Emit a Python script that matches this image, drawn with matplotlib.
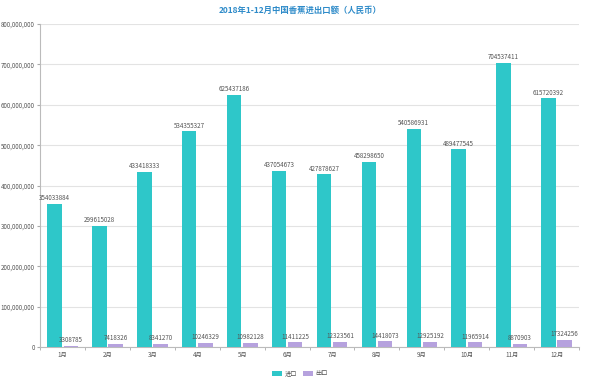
import matplotlib.pyplot as plt
import matplotlib.ticker as mticker
import numpy as np

plt.rcParams['font.family'] = ['Noto Sans CJK SC', 'DejaVu Sans']

months = ["1月", "2月", "3月", "4月", "5月", "6月", "7月", "8月", "9月", "10月", "11月", "12月"]
imports = [354033884, 299615028, 433418333, 534355327, 625437186, 437054673,
           427878627, 458298650, 540586931, 489477545, 704537411, 615720392]
exports = [3308785, 7418326, 8341270, 10246329, 10982128, 11411225,
           12323561, 14418073, 12925192, 11965914, 8870903, 17324256]

c_imp = "#2ec7c9"
c_exp = "#b6a2de"
grid_c = "#e3e3e3"
text_c = "#555555"

fig = plt.figure(figsize=(6, 3.81), dpi=100)
ax = fig.add_axes([0.067, 0.089, 0.898, 0.848])

x = np.arange(len(months))
w = 0.32
gap = 0.02
ax.bar(x - w / 2 - gap, imports, width=w, color=c_imp, label="进口", zorder=3)
ax.bar(x + w / 2 + gap, exports, width=w, color=c_exp, label="出口", zorder=3)

for xi, v in zip(x, imports):
    ax.text(xi - w / 2 - gap, v + 4e6, str(v), ha="center", va="bottom", fontsize=4.5, color=text_c)
for xi, v in zip(x, exports):
    ax.text(xi + w / 2 + gap, v + 4e6, str(v), ha="center", va="bottom", fontsize=4.5, color=text_c)

ax.set_xlim(-0.5, len(months) - 0.5)
ax.set_ylim(0, 800000000)
ax.yaxis.set_major_locator(mticker.MultipleLocator(100000000))
ax.yaxis.set_major_formatter(mticker.FuncFormatter(lambda v, p: f"{int(v):,}"))
ax.grid(axis="y", color=grid_c, linewidth=0.8, zorder=0)

ax.set_xticks(x)
ax.set_xticklabels(months)
ax.set_xticks(np.arange(-0.5, len(months)), minor=True)
ax.tick_params(axis="x", which="major", length=0, labelsize=4.5, colors=text_c, pad=3)
ax.tick_params(axis="x", which="minor", length=2, color="#aaaaaa")
ax.tick_params(axis="y", length=2, color="#aaaaaa", labelsize=4.5, labelcolor=text_c, pad=2)

for s in ["top", "right"]:
    ax.spines[s].set_visible(False)
ax.spines["left"].set_color("#bbbbbb")
ax.spines["bottom"].set_color("#bbbbbb")
ax.spines["left"].set_linewidth(0.8)
ax.spines["bottom"].set_linewidth(0.8)

fig.text(0.5, 0.985, "2018年1-12月中国香蕉进出口额（人民币）", ha="center", va="top",
         fontsize=6, color="#2e8bc9", fontweight="bold")

fig.legend(loc="lower center", bbox_to_anchor=(0.5, -0.005), ncol=2, frameon=False,
           fontsize=4.5, handlelength=1.6, handleheight=0.9, columnspacing=1.0,
           handletextpad=0.4, labelcolor=text_c)

fig.savefig("out.png", dpi=100)
